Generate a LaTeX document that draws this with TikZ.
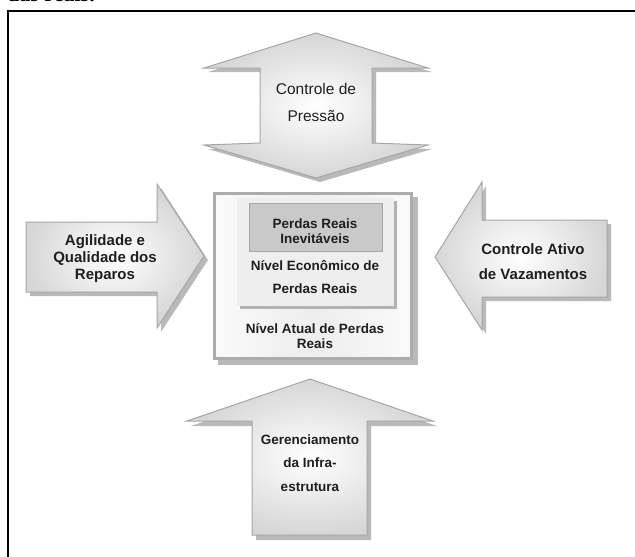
\documentclass[tikz,border=0pt]{standalone}
\usepackage{fontspec}
\setmainfont{Liberation Sans}
\newfontfamily\capfont{Liberation Serif}
\begin{document}
\begin{tikzpicture}[x=1pt,y=-1pt,
  shadowshape/.style={fill=gray!55, draw=none},
  arrowbody/.style={shade, inner color=white, outer color=gray!32, draw=gray!70, line width=1pt},
  lbl/.style={font=\bfseries\fontsize{15}{17}\selectfont, align=center, text=black!88, inner sep=0pt},
  boxlbl/.style={font=\bfseries\fontsize{13.5}{15}\selectfont, align=center, text=black!88, inner sep=0pt}]
\useasboundingbox (0,0) rectangle (635,557);
\begin{scope}
\clip (0,0) rectangle (635,557);
% partial caption cut off at the top
\node[anchor=base west, inner sep=0pt, font=\capfont\bfseries\fontsize{22}{22}\selectfont] (cap) at (7,1) {das reais.};
% frame
\draw[line width=2pt] (7.5,570) |- (650,11);

% top double arrow
\path[shadowshape, shift={(4,4)}] (316,33) -- (428,68) -- (372,68) -- (372,143) -- (428,145) -- (316,178) -- (204,145) -- (260,143) -- (260,68) -- (204,68) -- cycle;
\path[arrowbody] (316,33) -- (428,68) -- (372,68) -- (372,143) -- (428,145) -- (316,178) -- (204,145) -- (260,143) -- (260,68) -- (204,68) -- cycle;
\node[lbl, font=\fontsize{15.5}{27}\selectfont] (pressao) at (316,102) {Controle de\\Pressão};

% left arrow
\path[shadowshape, shift={(4,4)}] (26,222) -- (157,222) -- (157,184) -- (204,256) -- (157,328) -- (157,292) -- (26,292) -- cycle;
\path[arrowbody] (26,222) -- (157,222) -- (157,184) -- (204,256) -- (157,328) -- (157,292) -- (26,292) -- cycle;
\node[lbl] (agil) at (105,259) {Agilidade e\\Qualidade dos\\Reparos};

% right arrow
\path[shadowshape, shift={(4,4)}] (607,220) -- (482,220) -- (482,182) -- (435,257) -- (482,330) -- (482,297) -- (607,297) -- cycle;
\path[arrowbody] (607,220) -- (482,220) -- (482,182) -- (435,257) -- (482,330) -- (482,297) -- (607,297) -- cycle;
\node[lbl, font=\bfseries\fontsize{15}{25}\selectfont] (ativo) at (533,262) {Controle Ativo\\de Vazamentos};

% bottom arrow
\path[shadowshape, shift={(4,5)}] (310,379) -- (433,421) -- (367,421) -- (367,535) -- (252,535) -- (252,421) -- (187,421) -- cycle;
\path[arrowbody] (310,379) -- (433,421) -- (367,421) -- (367,535) -- (252,535) -- (252,421) -- (187,421) -- cycle;
\node[boxlbl, font=\bfseries\fontsize{13.5}{23.5}\selectfont] (infra) at (310,463) {Gerenciamento\\da Infra-\\estrutura};

% central box
\path[shadowshape] (218,197) rectangle (418,365);
\path[shade, left color=gray!4, right color=gray!4, middle color=gray!14, draw=gray!65, line width=3pt] (214.5,193.5) rectangle (411.5,358.5);
\path[fill=gray!60] (240,201) rectangle (397,309);
\path[fill=gray!13] (237,198) rectangle (394,306);
\path[fill=gray!42, draw=gray!70, line width=0.8pt] (249,203) rectangle (382,251);
\node[boxlbl] (inev) at (315,231) {Perdas Reais\\Inevitáveis};
\node[boxlbl, font=\bfseries\fontsize{13.5}{23}\selectfont] (econ) at (315,277) {Nível Econômico de\\Perdas Reais};
\node[boxlbl] (atual) at (315,336) {Nível Atual de Perdas\\Reais};
\end{scope}
\end{tikzpicture}
\end{document}
